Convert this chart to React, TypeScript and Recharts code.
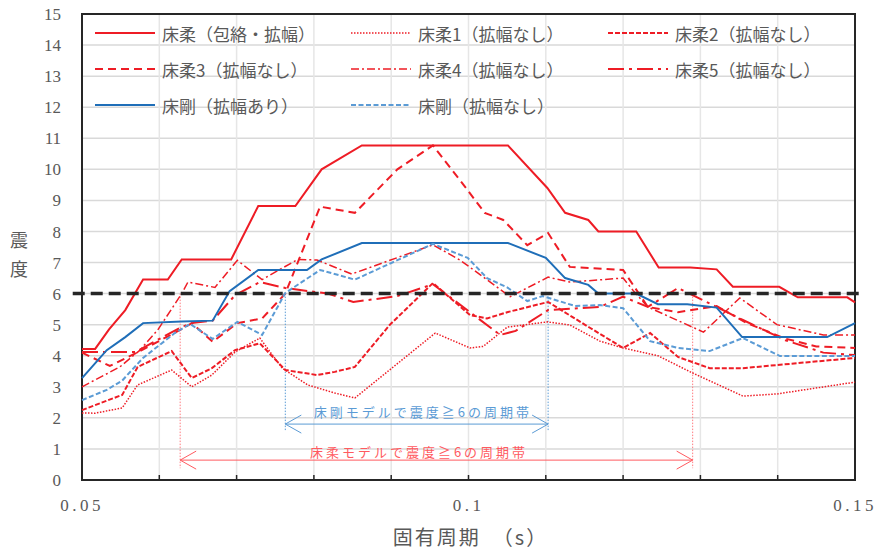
import React from "react";
import {
  LineChart, Line, XAxis, YAxis, CartesianGrid, Legend,
  ReferenceLine, ReferenceArea, ReferenceDot,
} from "recharts";

// 固有周期 (s) と震度 — 図から読み取った値
const envT = [0.05, 0.0517, 0.0535, 0.0556, 0.0579, 0.0611, 0.0629, 0.0693, 0.0728, 0.0776, 0.081, 0.0862, 0.1051, 0.1102, 0.1125, 0.1155, 0.1168, 0.1217, 0.1246, 0.1287, 0.1321, 0.1342, 0.1402, 0.1426, 0.149, 0.15];
const envV = [4.22, 4.22, 4.85, 5.47, 6.45, 6.45, 7.1, 7.1, 8.82, 8.82, 10.0, 10.77, 10.77, 9.4, 8.6, 8.37, 8.0, 8.0, 6.84, 6.84, 6.78, 6.22, 6.22, 5.88, 5.88, 5.72];

const flex1T = [0.05, 0.0517, 0.0552, 0.0572, 0.0616, 0.0642, 0.0668, 0.0698, 0.073, 0.0759, 0.0792, 0.0827, 0.0853, 0.0957, 0.1002, 0.1019, 0.105, 0.1102, 0.1131, 0.117, 0.12, 0.1245, 0.1287, 0.1355, 0.1399, 0.15];
const flex1V = [2.16, 2.15, 2.32, 3.06, 3.54, 3.0, 3.38, 4.12, 4.57, 3.6, 3.06, 2.8, 2.64, 4.73, 4.25, 4.3, 4.92, 5.09, 4.99, 4.47, 4.25, 4.0, 3.48, 2.7, 2.77, 3.15];

const flex2T = [0.05, 0.0552, 0.0572, 0.0616, 0.0642, 0.0668, 0.0698, 0.073, 0.0763, 0.0804, 0.0827, 0.0853, 0.0898, 0.0954, 0.1002, 0.1024, 0.105, 0.1103, 0.1157, 0.12, 0.1235, 0.1271, 0.1312, 0.1355, 0.15];
const flex2V = [2.25, 2.74, 3.64, 4.15, 3.28, 3.6, 4.18, 4.4, 3.54, 3.38, 3.48, 3.64, 4.99, 6.34, 5.31, 5.2, 5.4, 5.73, 4.9, 4.25, 4.73, 3.96, 3.6, 3.6, 3.93];

const flex3T = [0.05, 0.0536, 0.0571, 0.0627, 0.0642, 0.0669, 0.0701, 0.0733, 0.0763, 0.0808, 0.0853, 0.0908, 0.0954, 0.0989, 0.1021, 0.1045, 0.1076, 0.1103, 0.1131, 0.12, 0.1232, 0.1271, 0.1321, 0.136, 0.141, 0.145, 0.15];
const flex3V = [4.1, 3.67, 4.1, 4.83, 5.05, 4.45, 5.05, 5.2, 6.0, 8.8, 8.6, 10.0, 10.77, 9.65, 8.6, 8.37, 7.56, 7.95, 6.86, 6.76, 5.57, 5.4, 5.6, 5.05, 4.55, 4.3, 4.25];

const flex4T = [0.05, 0.0549, 0.0575, 0.0598, 0.0629, 0.0637, 0.0672, 0.0701, 0.0733, 0.0779, 0.0804, 0.0849, 0.0954, 0.0989, 0.1021, 0.1054, 0.1103, 0.1131, 0.12, 0.1213, 0.1232, 0.1304, 0.1351, 0.1399, 0.1459, 0.15];
const flex4V = [3.0, 3.64, 4.18, 4.83, 6.0, 6.37, 6.2, 7.07, 6.45, 7.1, 7.08, 6.63, 7.57, 7.08, 6.5, 5.9, 6.53, 6.37, 6.5, 6.1, 5.57, 4.76, 5.86, 5.0, 4.67, 4.67];

const flex5T = [0.05, 0.0569, 0.0597, 0.0627, 0.0642, 0.0669, 0.0698, 0.073, 0.0763, 0.0818, 0.0851, 0.0908, 0.0954, 0.1041, 0.1061, 0.1103, 0.117, 0.12, 0.1232, 0.1271, 0.1321, 0.1355, 0.141, 0.1459, 0.15];
const flex5V = [4.12, 4.12, 4.5, 4.9, 5.05, 5.13, 5.95, 6.37, 6.18, 6.0, 5.73, 5.92, 6.3, 4.67, 4.8, 5.47, 5.57, 5.9, 5.57, 6.18, 5.57, 5.15, 4.5, 4.1, 4.02];

const rigidT = [0.05, 0.0532, 0.0556, 0.0579, 0.0629, 0.0669, 0.0691, 0.0728, 0.0791, 0.081, 0.0862, 0.1051, 0.11, 0.1125, 0.1155, 0.1168, 0.1217, 0.1245, 0.1283, 0.1321, 0.1354, 0.1464, 0.15];
const rigidV = [3.28, 4.18, 4.6, 5.05, 5.1, 5.13, 6.08, 6.76, 6.76, 7.1, 7.63, 7.63, 7.15, 6.5, 6.28, 6.0, 6.0, 5.66, 5.66, 5.55, 4.6, 4.6, 5.05];

const rigidNT = [0.05, 0.0532, 0.0552, 0.0579, 0.062, 0.064, 0.0669, 0.0701, 0.0733, 0.0763, 0.0808, 0.0853, 0.0954, 0.0999, 0.1024, 0.105, 0.1076, 0.1096, 0.1138, 0.117, 0.12, 0.1235, 0.1271, 0.1312, 0.1355, 0.1403, 0.15];
const rigidNV = [2.57, 2.9, 3.2, 3.93, 4.73, 5.02, 4.54, 5.09, 4.67, 6.02, 6.76, 6.45, 7.6, 7.15, 6.5, 6.2, 5.76, 5.92, 5.6, 5.63, 5.53, 4.47, 4.25, 4.15, 4.57, 3.99, 3.99];

// 震度≧6 の周期帯
const bandFlex = [0.0627, 0.129];
const bandRigid = [0.0763, 0.1103];
const threshold = 6;

const xTicks = [0.05, 0.06, 0.07, 0.08, 0.09, 0.1, 0.11, 0.12, 0.13, 0.14, 0.15];
const xLabels = ["0.05", "", "", "", "", "0.1", "", "", "", "", "0.15"];
const yTicks = [0, 1, 2, 3, 4, 5, 6, 7, 8, 9, 10, 11, 12, 13, 14, 15];

const RED = "#EE1C25";
const BLUE = "#1F6EB8";
const LBLUE = "#5B9BD5";
const GRAY = "#595959";

const pts = (t: number[], v: number[]) => t.map((x, i) => ({ t: x, v: v[i] }));

const series = [
  { name: "床柔（包絡・拡幅）", data: pts(envT, envV), color: RED, dash: undefined, w: 2 },
  { name: "床柔1（拡幅なし）", data: pts(flex1T, flex1V), color: RED, dash: "1.5 1.5", w: 1.5 },
  { name: "床柔2（拡幅なし）", data: pts(flex2T, flex2V), color: RED, dash: "5 2", w: 2 },
  { name: "床柔3（拡幅なし）", data: pts(flex3T, flex3V), color: RED, dash: "8 5", w: 2 },
  { name: "床柔4（拡幅なし）", data: pts(flex4T, flex4V), color: RED, dash: "8 3 2 3", w: 1.5 },
  { name: "床柔5（拡幅なし）", data: pts(flex5T, flex5V), color: RED, dash: "16 5 3 5", w: 2 },
  { name: "床剛（拡幅あり）", data: pts(rigidT, rigidV), color: BLUE, dash: undefined, w: 2 },
  { name: "床剛（拡幅なし）", data: pts(rigidNT, rigidNV), color: LBLUE, dash: "5 2.5", w: 2 },
];

/** 凡例: 3列グリッド、プロット内の上部に重ねる */
function LegendBox() {
  return (
    <div style={{ display: "grid", gridTemplateColumns: "256px 257px 256px" }}>
      {series.map((s) => (
        <div key={s.name} style={{ display: "flex", alignItems: "center", height: 36 }}>
          <svg width={60} height={10}>
            <line x1={0} y1={5} x2={60} y2={5} stroke={s.color} strokeWidth={s.w} strokeDasharray={s.dash} />
          </svg>
          <span style={{ marginLeft: 7, fontSize: 17, color: GRAY, fontFamily: "'Noto Sans CJK JP'" }}>{s.name}</span>
        </div>
      ))}
    </div>
  );
}

// 両端に矢印のある水平線
const arrow = (color: string) => (p: any) => {
  const { x1, y1, x2, y2 } = p;
  return (
    <g stroke={color} strokeWidth={1} fill="none">
      <line x1={x1} y1={y1} x2={x2} y2={y2} />
      <polyline points={`${x1 + 16},${y1 - 9} ${x1},${y1} ${x1 + 16},${y1 + 9}`} />
      <polyline points={`${x2 - 16},${y2 - 9} ${x2},${y2} ${x2 - 16},${y2 + 9}`} />
    </g>
  );
};

const bandText = (text: string, color: string) => (p: any) => (
  <text x={p.cx} y={p.cy} textAnchor="middle" dominantBaseline="central" fill={color}
    fontSize={13} letterSpacing={3} fontFamily="'Noto Sans CJK JP'">{text}</text>
);

function YTitle(props: any) {
  const vb = props.viewBox;
  const cx = vb.x + 19;
  const cy = vb.y + vb.height / 2;
  return (
    <g fill={GRAY} fontSize={18} fontFamily="'Noto Sans CJK JP'" textAnchor="middle">
      <text x={cx} y={cy - 8} dominantBaseline="central">震</text>
      <text x={cx} y={cy + 21} dominantBaseline="central">度</text>
    </g>
  );
}

function XTitle(props: any) {
  const vb = props.viewBox;
  return (
    <text x={vb.x + vb.width / 2 + 2} y={vb.y + 56} textAnchor="middle" dominantBaseline="central"
      fill={GRAY} fontSize={20} letterSpacing={2} fontFamily="'Noto Sans CJK JP'">固有周期　（s）</text>
  );
}

export default function App() {
  return (
    <div style={{ position: "absolute", left: 0, top: 0, width: 879, height: 551, background: "#fff", fontFamily: "'Liberation Serif'" }}>
      <LineChart width={879} height={551} margin={{ top: 14, right: 24, left: 0, bottom: 0 }}>
        <CartesianGrid horizontal={true} vertical={false} stroke="#D9D9D9" strokeWidth={1.5} />
        <CartesianGrid horizontal={false} vertical={true} stroke="#E6E6E6" strokeWidth={1.5} />
        <XAxis
          type="number"
          dataKey="t"
          domain={[0.05, 0.15]}
          ticks={xTicks}
          tickFormatter={(v: number) => xLabels[xTicks.indexOf(v)] ?? ""}
          interval={0}
          height={71}
          axisLine={false}
          tickLine={{ stroke: "#262626", strokeWidth: 1.5 }}
          tickSize={-5}
          tickMargin={24}
          tick={{ fill: GRAY, fontSize: 17, letterSpacing: 3.5, fontFamily: "'Liberation Serif'" }}
          label={<XTitle />}
        />
        <YAxis
          type="number"
          domain={[0, 15]}
          ticks={yTicks}
          interval={0}
          width={82}
          axisLine={false}
          tickLine={false}
          tickMargin={15}
          tick={{ fill: GRAY, fontSize: 17, fontFamily: "'Liberation Serif'" }}
          label={<YTitle />}
        />
        <Legend
          content={<LegendBox />}
          layout="horizontal"
          verticalAlign="middle"
          align="center"
          wrapperStyle={{ top: 15, left: 95, width: 780 }}
        />

        {/* 周期帯の縦線 */}
        {bandFlex.map((x) => (
          <ReferenceLine key={"f" + x} segment={[{ x, y: threshold }, { x, y: 0.38 }]} stroke="#FF7C80" strokeWidth={1} strokeDasharray="1.5 1.5" />
        ))}
        {bandRigid.map((x) => (
          <ReferenceLine key={"r" + x} segment={[{ x, y: threshold }, { x, y: 1.6 }]} stroke={LBLUE} strokeWidth={1} strokeDasharray="1.5 1.5" />
        ))}
        <ReferenceLine segment={[{ x: bandRigid[0], y: 1.8 }, { x: bandRigid[1], y: 1.8 }]} shape={arrow(LBLUE)} />
        <ReferenceLine segment={[{ x: bandFlex[0], y: 0.64 }, { x: bandFlex[1], y: 0.64 }]} shape={arrow("#FF5A5F")} />
        <ReferenceDot x={0.0941} y={2.2} r={0} shape={bandText("床剛モデルで震度≧6の周期帯", LBLUE)} />
        <ReferenceDot x={0.0936} y={0.93} r={0} shape={bandText("床柔モデルで震度≧6の周期帯", "#FF5A5F")} />

        {series.map((s) => (
          <Line
            key={s.name}
            data={s.data}
            dataKey="v"
            name={s.name}
            type="linear"
            stroke={s.color}
            strokeWidth={s.w}
            strokeDasharray={s.dash}
            dot={false}
            activeDot={false}
            isAnimationActive={false}
          />
        ))}

        <ReferenceLine
          segment={[{ x: 0.0488, y: threshold }, { x: 0.1506, y: threshold }]}
          ifOverflow="visible"
          stroke="#262626"
          strokeWidth={3.5}
          strokeDasharray="12 6"
        />
        <ReferenceArea x1={0.05} x2={0.15} y1={0} y2={15} fill="none" stroke="#262626" strokeWidth={2} ifOverflow="visible" />
      </LineChart>
    </div>
  );
}
